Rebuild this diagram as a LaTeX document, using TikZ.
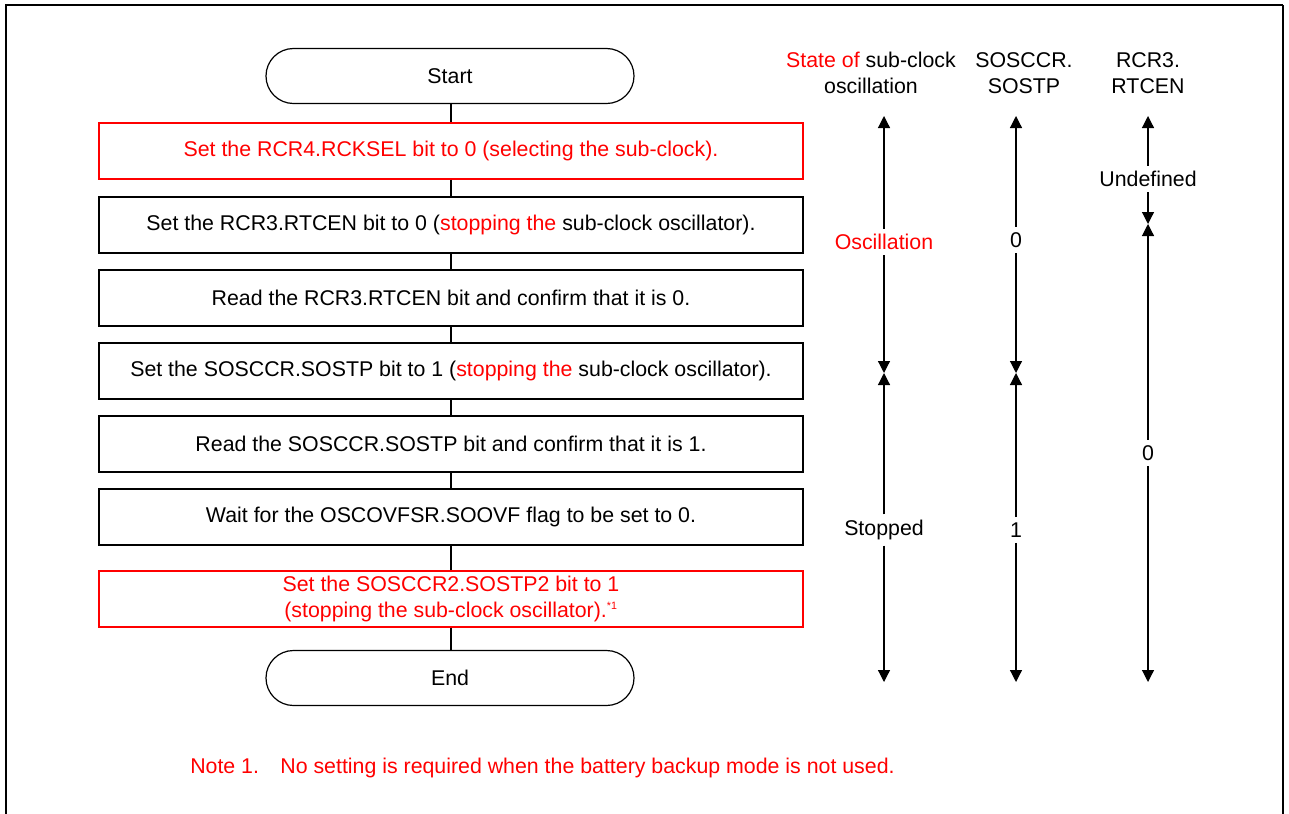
\documentclass[tikz,border=0pt]{standalone}
\usepackage{fontspec}
\setmainfont{Liberation Sans}
\usetikzlibrary{arrows.meta}
\definecolor{NoteRed}{RGB}{255,0,0}

\begin{document}
\begin{tikzpicture}[x=0.75pt,y=-0.75pt,
    font=\fontsize{16}{19.5}\selectfont,
    stepbox/.style={draw,line width=0.9pt,minimum width=528pt,minimum height=42pt,align=center},
    redbox/.style={stepbox,draw=NoteRed,text=NoteRed},
    term/.style={draw,line width=0.9pt,rounded corners=20.6pt,minimum width=276pt,minimum height=41.25pt},
    state/.style={inner sep=4pt,align=center},
    span/.style={line width=0.9pt,-{Triangle[length=9pt,width=9pt]}}]
  \useasboundingbox (0,0) rectangle (1289,814);
  % frame
  \draw[line width=2.2pt] (6,814) -- (6,5) -- (1283,5);
  \draw[line width=1.6pt] (1283,5) -- (1283,814);

  % flow
  \node[term] (start) at (450,76) {Start};
  \node[redbox] (rcksel) at (451,151) {Set the RCR4.RCKSEL bit to 0 (selecting the sub-clock).};
  \node[stepbox] (rtcen) at (451,225) {Set the RCR3.RTCEN bit to 0 (\textcolor{NoteRed}{stopping the} sub-clock oscillator).};
  \node[stepbox] (rtcenrd) at (451,298) {Read the RCR3.RTCEN bit and confirm that it is 0.};
  \node[stepbox] (sostp) at (451,371) {Set the SOSCCR.SOSTP bit to 1 (\textcolor{NoteRed}{stopping the} sub-clock oscillator).};
  \node[stepbox] (sostprd) at (451,444) {Read the SOSCCR.SOSTP bit and confirm that it is 1.};
  \node[stepbox] (soovf) at (451,517) {Wait for the OSCOVFSR.SOOVF flag to be set to 0.};
  \node[redbox] (sostptwo) at (451,599) {Set the SOSCCR2.SOSTP2 bit to 1\\(stopping the sub-clock oscillator).\textsuperscript{\footnotesize *1}};
  \node[term] (end) at (450,678) {End};
  \foreach \a/\b in {start/rcksel,rcksel/rtcen,rtcen/rtcenrd,rtcenrd/sostp,sostp/sostprd,sostprd/soovf,soovf/sostptwo,sostptwo/end}
    \draw[line width=0.9pt] (\a.south -| 451,0) -- (\b.north -| 451,0);

  % state columns
  \node[state] (hdosc) at (871,73) {\textcolor{NoteRed}{State of} sub-clock\\oscillation};
  \node[state] (hdsostp) at (1024,73) {SOSCCR.\\SOSTP};
  \node[state] (hdrtcen) at (1148,73) {RCR3.\\RTCEN};

  \coordinate (osctop) at (884,116);
  \coordinate (oscmid) at (884,373);
  \coordinate (oscmidb) at (884,373);
  \coordinate (oscbot) at (884,682);
  \node[state,text=NoteRed] (osc) at (884,242) {Oscillation};
  \node[state] (stop) at (884,530) {Stopped};
  \draw[span] (osc) -- (osctop);
  \draw[span] (osc) -- (oscmid);
  \draw[span] (stop) -- (oscmidb);
  \draw[span] (stop) -- (oscbot);

  \coordinate (sptop) at (1016,116);
  \coordinate (spmid) at (1016,373);
  \coordinate (spmidb) at (1016,373);
  \coordinate (spbot) at (1016,682);
  \node[state] (spzero) at (1016,240) {0};
  \node[state] (spone) at (1016,530) {1};
  \draw[span] (spzero) -- (sptop);
  \draw[span] (spzero) -- (spmid);
  \draw[span] (spone) -- (spmidb);
  \draw[span] (spone) -- (spbot);

  \coordinate (rttop) at (1148,116);
  \coordinate (rtmid) at (1148,224);
  \coordinate (rtmidb) at (1148,224);
  \coordinate (rtbot) at (1148,682);
  \node[state] (undef) at (1148,179) {Undefined};
  \node[state] (rtzero) at (1148,453) {0};
  \draw[span] (undef) -- (rttop);
  \draw[span] (undef) -- (rtmid);
  \draw[span] (rtzero) -- (rtmidb);
  \draw[span] (rtzero) -- (rtbot);

  % note
  \node[anchor=west,text=NoteRed,inner sep=0pt] (note) at (190,768) {Note 1.\hspace{1em}No setting is required when the battery backup mode is not used.};
\end{tikzpicture}
\end{document}
